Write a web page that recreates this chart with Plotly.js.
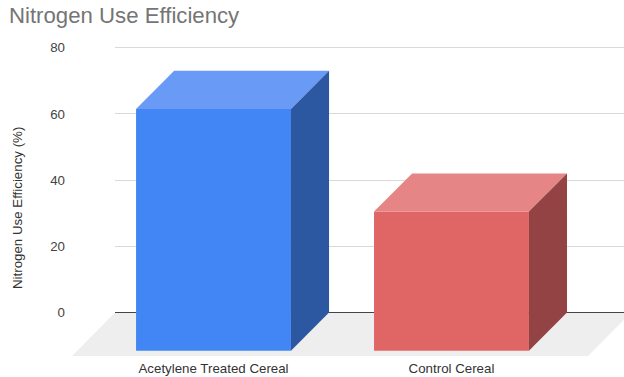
<!DOCTYPE html>
<html>
<head>
<meta charset="utf-8">
<script src="https://cdn.plot.ly/plotly-3.0.1.min.js"></script>
<style>html,body{margin:0;padding:0;background:#fff}</style>
</head>
<body>
<div id="chart" style="width:624px;height:377px"></div>
<script>
// Chart data
const categories = ["Acetylene Treated Cereal", "Control Cereal"];
const efficiency = [73, 42];
const frontColors = ["#4285f4", "#e06666"];
const topColors = ["#689af6", "#e68585"];
const sideColors = ["#2c57a1", "#934343"];
const yTicks = [0, 20, 40, 60, 80];

// Pseudo-3D extrusion, in axis units
const barWidth = 0.651;
const depthX = 0.16;
const depthY = 11.5;
const floorFront = -13.1;
const yRange = [floorFront, 81.7];
const F = "Liberation Sans, Arial, sans-serif";

const positions = categories.map((_, i) => i);
const traces = [];

// Floor, in the full-width background subplot
const floorL = -0.595, floorR = 1.574, floorDX = 0.181;
traces.push({
  type: "scatter", mode: "lines", xaxis: "x", yaxis: "y", hoverinfo: "skip", showlegend: false,
  x: [floorL, floorR, floorR + floorDX, floorL + floorDX, floorL],
  y: [floorFront, floorFront, 0, 0, floorFront],
  fill: "toself", fillcolor: "#eeeeee", line: {width: 0}
});

// Front faces sit on the forward edge of the extrusion
traces.push({
  type: "bar", xaxis: "x2", yaxis: "y2", x: positions, y: efficiency, base: -depthY,
  width: barWidth, marker: {color: frontColors, line: {width: 0}},
  showlegend: false, hoverinfo: "skip"
});

// Top and side faces, derived from each bar's value
efficiency.forEach((v, i) => {
  const l = positions[i] - barWidth / 2, r = positions[i] + barWidth / 2;
  const front = v - depthY;
  traces.push({
    type: "scatter", mode: "lines", xaxis: "x2", yaxis: "y2", hoverinfo: "skip", showlegend: false,
    x: [l, r, r + depthX, l + depthX, l], y: [front, front, v, v, front],
    fill: "toself", fillcolor: topColors[i], line: {width: 0}
  });
  traces.push({
    type: "scatter", mode: "lines", xaxis: "x2", yaxis: "y2", hoverinfo: "skip", showlegend: false,
    x: [r, r + depthX, r + depthX, r, r], y: [front, v, 0, -depthY, front],
    fill: "toself", fillcolor: sideColors[i], line: {width: 0}
  });
});

const layout = {
  width: 624, height: 377,
  margin: {l: 72, r: 0, t: 42, b: 21},
  paper_bgcolor: "#ffffff", plot_bgcolor: "rgba(0,0,0,0)",
  showlegend: false,
  title: {
    text: "Nitrogen Use Efficiency",
    font: {family: F, size: 22.2, color: "#757575"},
    xref: "container", yref: "container", x: 9 / 624, xanchor: "left",
    y: 1 - 15 / 377, yanchor: "middle"
  },
  xaxis: {domain: [0, 1], range: [-0.595, 1.725], visible: false, fixedrange: true},
  yaxis: {domain: [0, 1], range: yRange, visible: false, fixedrange: true},
  xaxis2: {
    domain: [43 / 552, 1], range: [-0.414, 1.725], anchor: "y2",
    tickvals: positions, ticktext: categories, ticks: "", ticklabelstandoff: 3,
    showgrid: false, zeroline: false, showline: false,
    tickfont: {family: F, size: 13.3, color: "#333333"}, fixedrange: true
  },
  yaxis2: {
    domain: [0, 1], range: yRange, anchor: "free", position: 0, overlaying: "y",
    tickvals: yTicks, ticks: "", ticklabelstandoff: 7,
    tickfont: {family: F, size: 13.3, color: "#444444"},
    showgrid: true, gridcolor: "#d9d9d9", gridwidth: 1,
    zeroline: true, zerolinecolor: "#444444", zerolinewidth: 1, showline: false, fixedrange: true
  },
  annotations: [{
    text: "Nitrogen Use Efficiency (%)", textangle: -90, showarrow: false,
    xref: "paper", yref: "paper",
    x: (17 - 72) / 552, y: (356 - 208) / 314, xanchor: "center", yanchor: "middle",
    font: {family: F, size: 13.3, color: "#333333"}
  }]
};

Plotly.newPlot("chart", traces, layout, {displayModeBar: false, staticPlot: true});
</script>
</body>
</html>
